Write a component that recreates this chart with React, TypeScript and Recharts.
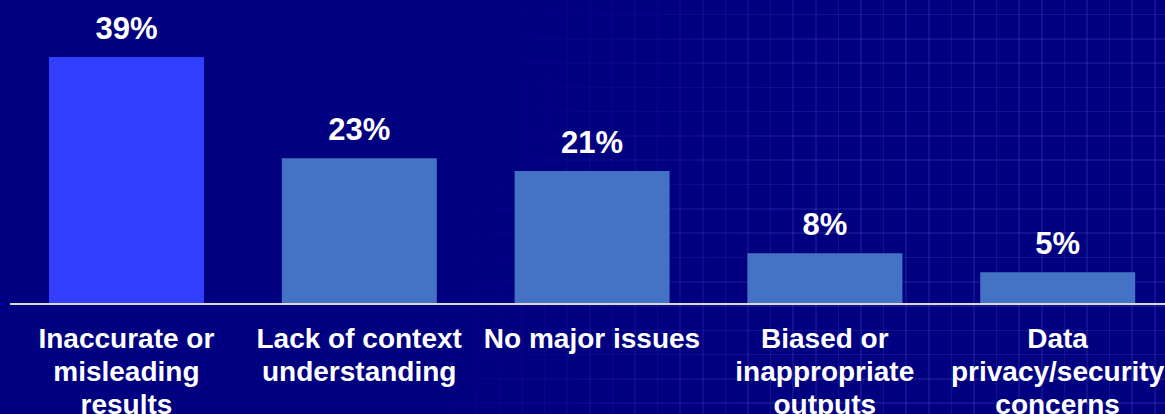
import React from "react";
import { BarChart, Bar, XAxis, YAxis, Cell, LabelList } from "recharts";

const categories = [
  "Inaccurate or misleading results",
  "Lack of context understanding",
  "No major issues",
  "Biased or inappropriate outputs",
  "Data privacy/security concerns",
];
const tickLines: string[][] = [
  ["Inaccurate or", "misleading", "results"],
  ["Lack of context", "understanding"],
  ["No major issues"],
  ["Biased or", "inappropriate", "outputs"],
  ["Data", "privacy/security", "concerns"],
];
const values = [39, 23, 21, 8, 5];
const valueLabels = ["39%", "23%", "21%", "8%", "5%"];
const barColors = ["#333FFF", "#4472C4", "#4472C4", "#4472C4", "#4472C4"];

const data = categories.map((c, i) => ({
  name: c,
  value: values[i],
  label: valueLabels[i],
  lines: tickLines[i],
}));

const FONT = "'Liberation Sans', Arial, Helvetica, sans-serif";

const CategoryTick = (props: any) => {
  const { x, y, index } = props;
  const lines = tickLines[index] || [];
  return (
    <text
      x={x}
      y={y}
      textAnchor="middle"
      fill="#FFFFFF"
      fontFamily={FONT}
      fontWeight="bold"
      fontSize={28}
    >
      {lines.map((ln, i) => (
        <tspan key={i} x={x} dy={i === 0 ? 44 : 33}>
          {ln}
        </tspan>
      ))}
    </text>
  );
};

const ValueLabel = (props: any) => {
  const { x, y, width, index } = props;
  return (
    <text
      x={x + width / 2}
      y={y - 18}
      textAnchor="middle"
      fill="#FFFFFF"
      fontFamily={FONT}
      fontWeight="bold"
      fontSize={31}
    >
      {valueLabels[index]}
    </text>
  );
};

const GRID = "rgba(140,140,255,0.13)";

export default function App() {
  return (
    <div
      style={{
        position: "relative",
        width: 1165,
        height: 414,
        overflow: "hidden",
        background: "#000080",
      }}
    >
      <style>{`body{margin:0;background:#000080;overflow:hidden}`}</style>
      <div
        style={{
          position: "absolute",
          left: 0,
          top: 0,
          width: 1165,
          height: 414,
          backgroundImage: `repeating-linear-gradient(to right, transparent 0px, transparent 21px, ${GRID} 21px, ${GRID} 22.6px), repeating-linear-gradient(to bottom, transparent 0px, transparent 22.7px, ${GRID} 22.7px, ${GRID} 24.3px)`,
          backgroundPosition: "3px -9px",
          WebkitMaskImage:
            "linear-gradient(102deg, transparent 40%, rgba(0,0,0,1) 68%)",
          maskImage: "linear-gradient(102deg, transparent 40%, rgba(0,0,0,1) 68%)",
        }}
      />
      <div style={{ position: "absolute", left: 0, top: 0 }}>
        <BarChart
          width={1180}
          height={414}
          data={data}
          margin={{ top: 19, right: 6, bottom: 0, left: 10 }}
          barSize={155}
        >
          <YAxis hide domain={[0, 45]} width={0} />
          <XAxis
            dataKey="name"
            interval={0}
            height={110}
            tickLine={false}
            tickSize={0}
            tickMargin={0}
            axisLine={{ stroke: "#D9D9D9", strokeWidth: 2 }}
            tick={<CategoryTick />}
          />
          <Bar dataKey="value" isAnimationActive={false}>
            {data.map((d, i) => (
              <Cell key={d.name} fill={barColors[i]} />
            ))}
            <LabelList dataKey="label" content={<ValueLabel />} />
          </Bar>
        </BarChart>
      </div>
    </div>
  );
}
